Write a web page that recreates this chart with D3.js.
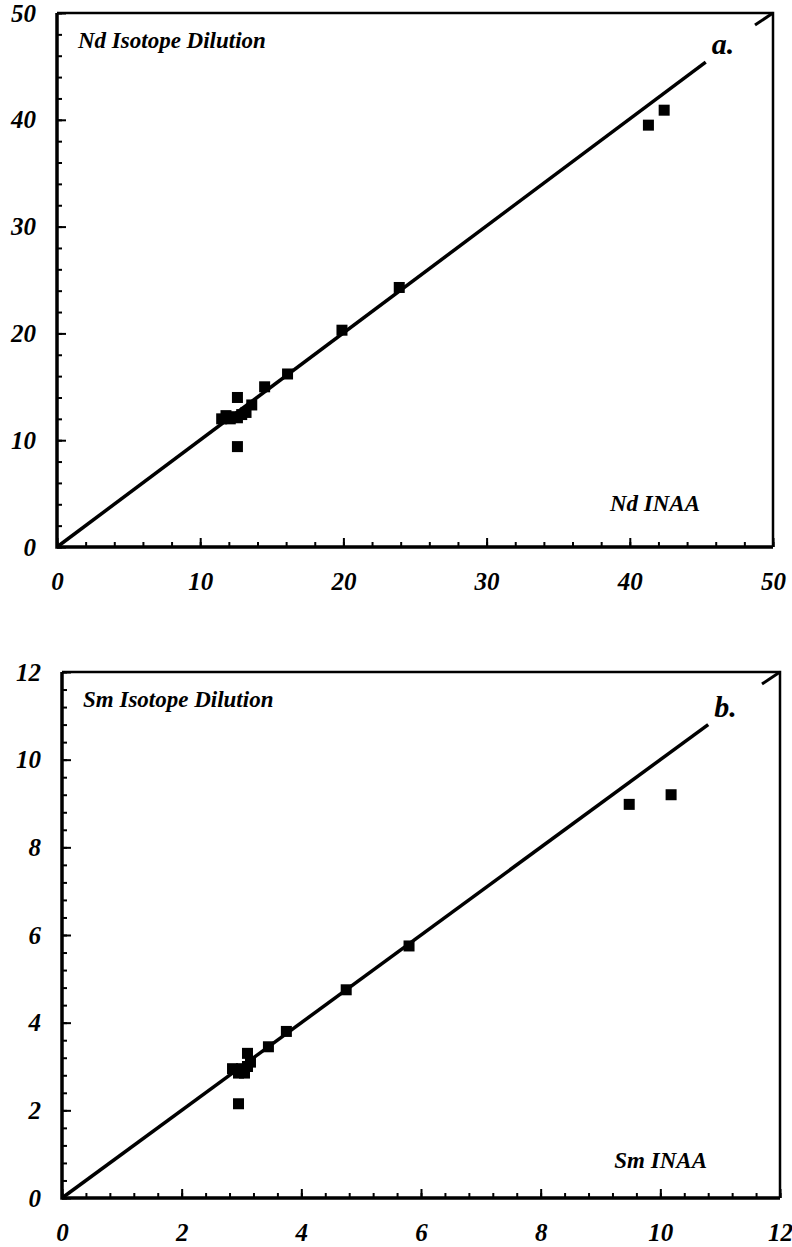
<!DOCTYPE html>
<html>
<head>
<meta charset="utf-8">
<script src="https://cdnjs.cloudflare.com/ajax/libs/d3/7.8.5/d3.min.js"></script>
<style>
body { margin: 0; background: #fff; }
text { font-family: "Liberation Serif", "Times New Roman", serif; font-style: italic; font-weight: bold; fill: #000; }
</style>
</head>
<body>
<svg id="chart" width="792" height="1247"></svg>
<script>
// panel a: Nd (ppm)
var ndINAA = [41.3, 42.4, 23.9, 19.9, 16.1, 14.5, 13.6, 12.6, 12.6, 11.5, 11.8, 12.1, 12.3, 12.6, 12.9, 13.2];
var ndID   = [39.5, 40.9, 24.3, 20.3, 16.2, 15.0, 13.3, 14.0, 9.4, 12.0, 12.3, 12.0, 12.2, 12.1, 12.4, 12.6];
var ndTicks = [0, 10, 20, 30, 40, 50];
var ndLine = [[0, 0], [45.3, 45.4]];

// panel b: Sm (ppm)
var smINAA = [9.48, 10.18, 5.8, 4.75, 3.75, 3.45, 3.1, 2.95, 2.85, 2.95, 3.0, 3.05, 3.1, 3.15];
var smID   = [8.98, 9.2, 5.75, 4.75, 3.8, 3.45, 3.3, 2.15, 2.95, 2.85, 2.95, 2.85, 3.0, 3.1];
var smTicks = [0, 2, 4, 6, 8, 10, 12];
var smLine = [[0, 0], [10.8, 10.8]];

var svg = d3.select("#chart");

function drawPanel(p) {
  var g = svg.append("g");
  var x = d3.scaleLinear().domain([0, p.max]).range([p.left, p.right]);
  var y = d3.scaleLinear().domain([0, p.max]).range([p.bottom, p.top]);

  // minor ticks
  g.append("g").attr("transform", `translate(0,${p.bottom})`)
    .call(d3.axisBottom(x).tickValues(d3.range(0, p.max + 0.001, p.minor)).tickSize(-5).tickFormat(""))
    .call(a => a.select(".domain").remove());
  g.append("g").attr("transform", `translate(${p.left},0)`)
    .call(d3.axisLeft(y).tickValues(d3.range(0, p.max + 0.001, p.minor)).tickSize(-5).tickFormat(""))
    .call(a => a.select(".domain").remove());

  // major ticks + labels
  var xa = g.append("g").attr("transform", `translate(0,${p.bottom})`)
    .call(d3.axisBottom(x).tickValues(p.ticks).tickSizeInner(-9).tickSizeOuter(0).tickPadding(25));
  xa.select(".domain").remove();
  xa.selectAll("text").attr("font-size", 25).attr("font-family", null);
  var ya = g.append("g").attr("transform", `translate(${p.left},0)`)
    .call(d3.axisLeft(y).tickValues(p.ticks).tickSizeInner(-9).tickSizeOuter(0).tickPadding(21));
  ya.select(".domain").remove();
  ya.selectAll("text").attr("font-size", 25).attr("font-family", null);
  g.selectAll(".tick line").attr("stroke", "#000").attr("stroke-width", 2);

  // frame
  g.append("path").attr("fill", "none").attr("stroke", "#000").attr("stroke-width", 2.5)
    .attr("d", `M${p.left},${p.top}H${p.right}V${p.bottom}`);
  g.append("path").attr("fill", "none").attr("stroke", "#000").attr("stroke-width", 3.5)
    .attr("d", `M${p.left},${p.top}V${p.bottom}H${p.right}`);
  // corner hook
  g.append("path").attr("fill", "none").attr("stroke", "#000").attr("stroke-width", 3)
    .attr("d", `M${p.right},${p.top}l-18,12`);

  // 1:1 line
  g.append("path").datum(p.line).attr("fill", "none").attr("stroke", "#000").attr("stroke-width", 3.5)
    .attr("d", d3.line().x(d => x(d[0])).y(d => y(d[1])));

  // points
  g.selectAll("rect.pt").data(p.xs).enter().append("rect").attr("class", "pt")
    .attr("x", d => x(d) - 5.5)
    .attr("y", (d, i) => y(p.ys[i]) - 5.5)
    .attr("width", 11).attr("height", 11).attr("fill", "#000");

  // labels
  g.append("text").attr("x", p.left + 21).attr("y", p.top + 35).attr("font-size", 23).text(p.yTitle);
  g.append("text").attr("x", p.right - 73).attr("y", p.bottom - p.xTitleDy).attr("font-size", 23)
    .attr("text-anchor", "end").text(p.xTitle);
  g.append("text").attr("x", x(p.line[1][0]) + 6).attr("y", y(p.line[1][1]) - 8)
    .attr("font-size", 30).text(p.tag);
}

drawPanel({ max: 50, minor: 2, ticks: ndTicks, line: ndLine, xs: ndINAA, ys: ndID,
  left: 57, right: 773, top: 13, bottom: 547, xTitleDy: 36,
  yTitle: "Nd Isotope Dilution", xTitle: "Nd INAA", tag: "a." });

drawPanel({ max: 12, minor: 0.4, ticks: smTicks, line: smLine, xs: smINAA, ys: smID,
  left: 62, right: 780, top: 672, bottom: 1198, xTitleDy: 30,
  yTitle: "Sm Isotope Dilution", xTitle: "Sm INAA", tag: "b." });
</script>
</body>
</html>
